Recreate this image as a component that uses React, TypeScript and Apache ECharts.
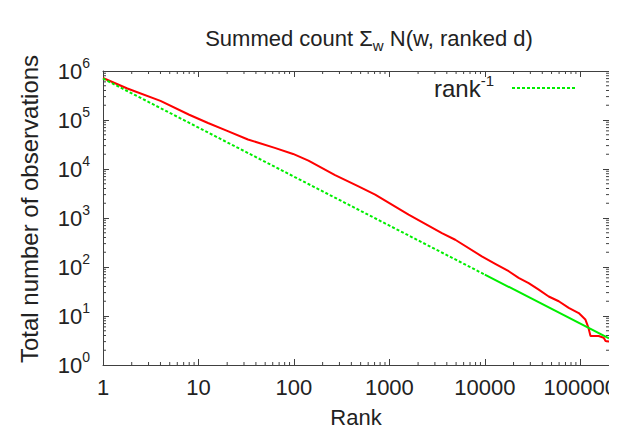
import React, { useEffect, useRef } from "react";
import * as echarts from "echarts";

const FONT = "Liberation Sans";
const TEXT = "#222222";
const AXIS = "#404040";

// Red data curve: rank vs total number of observations
const ranks = [1, 1.8, 4, 8, 12.6, 20, 33, 63, 98, 142, 270, 475, 710, 1590, 3550, 4900, 9300, 13000, 17800, 22600, 28800, 36700, 46700, 59500, 75700, 96400, 113000, 122000, 128000, 156000, 176000, 184000, 200000];
const counts = [720000, 440000, 245000, 128000, 87000, 60000, 40000, 27000, 20300, 14800, 7500, 4400, 2990, 1170, 491, 360, 165, 115, 82, 60, 47, 34.5, 25, 20, 14.6, 11.5, 8.5, 5.7, 3.9, 3.9, 3.6, 3.1, 3.0];

// rank^-1 reference line (dashed part, then the densely sampled solid-looking part)
const refDashedRanks = [1, 10000];
const refDashedValues = [700000, 70];
const refSolidRanks = [10000, 200000];
const refSolidValues = [70, 3.5];

// Axis ranges and ticks
const xMin = 1;
const xMax = 200000;
const yMin = 1;
const yMax = 1000000;
const xDecades = [1, 10, 100, 1000, 10000, 100000];
const yDecades = [1, 10, 100, 1000, 10000, 100000];
const minorMultipliers = [2, 3, 4, 5, 6, 7, 8, 9];

const xMinorTicks: number[] = [];
xDecades.forEach((d) => minorMultipliers.forEach((m) => { if (d * m < xMax) xMinorTicks.push(d * m); }));
const yMinorTicks: number[] = [];
yDecades.forEach((d) => minorMultipliers.forEach((m) => { if (d * m < yMax) yMinorTicks.push(d * m); }));

const isPow10 = (v: number) => Math.abs(Math.log10(v) - Math.round(Math.log10(v))) < 1e-6;

const GRID_LEFT = 95;
const GRID_WIDTH = 506;

export default function App() {
  const ref = useRef<HTMLDivElement>(null);
  useEffect(() => {
    if (!ref.current) return;
    const chart = echarts.init(ref.current, null, { renderer: "svg" });
    const tickLine = { lineStyle: { color: AXIS, width: 1 } };
    const option: any = {
      animation: false,
      backgroundColor: "#ffffff",
      title: {
        text: "Summed count Σ{sub|w} N(w, ranked d)",
        left: GRID_LEFT + GRID_WIDTH / 2 + 8,
        textAlign: "center",
        top: 10,
        textStyle: {
          fontFamily: FONT,
          fontSize: 22,
          fontWeight: "normal",
          color: TEXT,
          lineHeight: 30,
          rich: {
            sub: { fontFamily: FONT, fontSize: 15, color: TEXT, verticalAlign: "bottom", lineHeight: 15 },
          },
        },
      },
      grid: { left: GRID_LEFT, top: 63, width: GRID_WIDTH, height: 294, containLabel: false },
      legend: {
        data: ["rank-1"],
        right: 47,
        top: 65,
        padding: 0,
        align: "right",
        itemWidth: 65,
        itemHeight: 10,
        itemStyle: { opacity: 0 },
        formatter: () => "rank{sup|-1}",
        textStyle: {
          fontFamily: FONT,
          fontSize: 24,
          color: TEXT,
          lineHeight: 30,
          padding: [0, 13, 0, 0],
          rich: {
            sup: { fontFamily: FONT, fontSize: 15, color: TEXT, verticalAlign: "top", lineHeight: 15 },
          },
        },
      },
      xAxis: [
        {
          type: "log",
          logBase: 10,
          min: xMin,
          max: xMax,
          name: "Rank",
          nameLocation: "middle",
          nameGap: 41,
          nameTextStyle: { fontFamily: FONT, fontSize: 22, color: TEXT },
          axisLine: { show: true, ...tickLine },
          axisTick: { show: true, inside: true, length: 6, ...tickLine },
          splitLine: { show: false },
          axisLabel: {
            show: true,
            margin: 11,
            fontFamily: FONT,
            fontSize: 22,
            color: TEXT,
            showMaxLabel: false,
            formatter: (v: number) => (isPow10(v) ? String(Math.round(v)) : ""),
          },
        },
        {
          type: "log",
          logBase: 10,
          min: xMin,
          max: xMax,
          position: "top",
          axisLine: { show: true, ...tickLine },
          axisTick: { show: true, inside: true, length: 6, ...tickLine },
          axisLabel: { show: false },
          splitLine: { show: false },
        },
      ],
      yAxis: [
        {
          type: "log",
          logBase: 10,
          min: yMin,
          max: yMax,
          name: "Total number of observations",
          nameLocation: "middle",
          nameGap: 62,
          nameTextStyle: { fontFamily: FONT, fontSize: 24, color: TEXT, padding: [0, 0, 0, 18] },
          axisLine: { show: true, ...tickLine },
          axisTick: { show: true, inside: true, length: 6, ...tickLine },
          splitLine: { show: false },
          axisLabel: {
            show: true,
            margin: 13,
            fontFamily: FONT,
            fontSize: 22,
            color: TEXT,
            lineHeight: 30,
            formatter: (v: number) => "10{sup|" + Math.round(Math.log10(v)) + "}",
            rich: {
              sup: { fontFamily: FONT, fontSize: 14, color: TEXT, verticalAlign: "top", lineHeight: 14 },
            },
          },
        },
        {
          type: "log",
          logBase: 10,
          min: yMin,
          max: yMax,
          position: "right",
          axisLine: { show: true, ...tickLine },
          axisTick: { show: true, inside: true, length: 6, ...tickLine },
          axisLabel: { show: false },
          splitLine: { show: false },
        },
      ],
      series: [
        {
          name: "data",
          type: "line",
          symbol: "none",
          showSymbol: false,
          lineStyle: { color: "#ff0000", width: 2 },
          data: ranks.map((r, i) => [r, counts[i]]),
          z: 3,
        },
        {
          name: "rank-1",
          type: "line",
          symbol: "none",
          showSymbol: false,
          itemStyle: { color: "#00ee00" },
          lineStyle: { color: "#00ee00", width: 2, type: [3, 2] },
          data: refDashedRanks.map((r, i) => [r, refDashedValues[i]]),
          z: 4,
        },
        {
          name: "rank-1 (dense)",
          type: "line",
          symbol: "none",
          showSymbol: false,
          lineStyle: { color: "#00ee00", width: 2 },
          data: refSolidRanks.map((r, i) => [r, refSolidValues[i]]),
          z: 4,
        },
        {
          name: "xminor",
          type: "custom",
          silent: true,
          data: xMinorTicks.map((v) => [v, 10]),
          encode: { x: 0, y: 1 },
          renderItem: (params: any, api: any) => {
            const cs = params.coordSys;
            const x = api.coord([api.value(0), 10])[0];
            const st = { stroke: AXIS, lineWidth: 1 };
            return {
              type: "group",
              children: [
                { type: "line", shape: { x1: x, y1: cs.y + cs.height, x2: x, y2: cs.y + cs.height - 3 }, style: st },
                { type: "line", shape: { x1: x, y1: cs.y, x2: x, y2: cs.y + 3 }, style: st },
              ],
            };
          },
          z: 2,
        },
        {
          name: "yminor",
          type: "custom",
          silent: true,
          data: yMinorTicks.map((v) => [10, v]),
          encode: { x: 0, y: 1 },
          renderItem: (params: any, api: any) => {
            const cs = params.coordSys;
            const y = api.coord([10, api.value(1)])[1];
            const st = { stroke: AXIS, lineWidth: 1 };
            return {
              type: "group",
              children: [
                { type: "line", shape: { x1: cs.x, y1: y, x2: cs.x + 3, y2: y }, style: st },
                { type: "line", shape: { x1: cs.x + cs.width, y1: y, x2: cs.x + cs.width - 3, y2: y }, style: st },
              ],
            };
          },
          z: 2,
        },
      ],
    };
    chart.setOption(option);
    return () => chart.dispose();
  }, []);
  return <div ref={ref} style={{ width: 617, height: 431 }} />;
}
